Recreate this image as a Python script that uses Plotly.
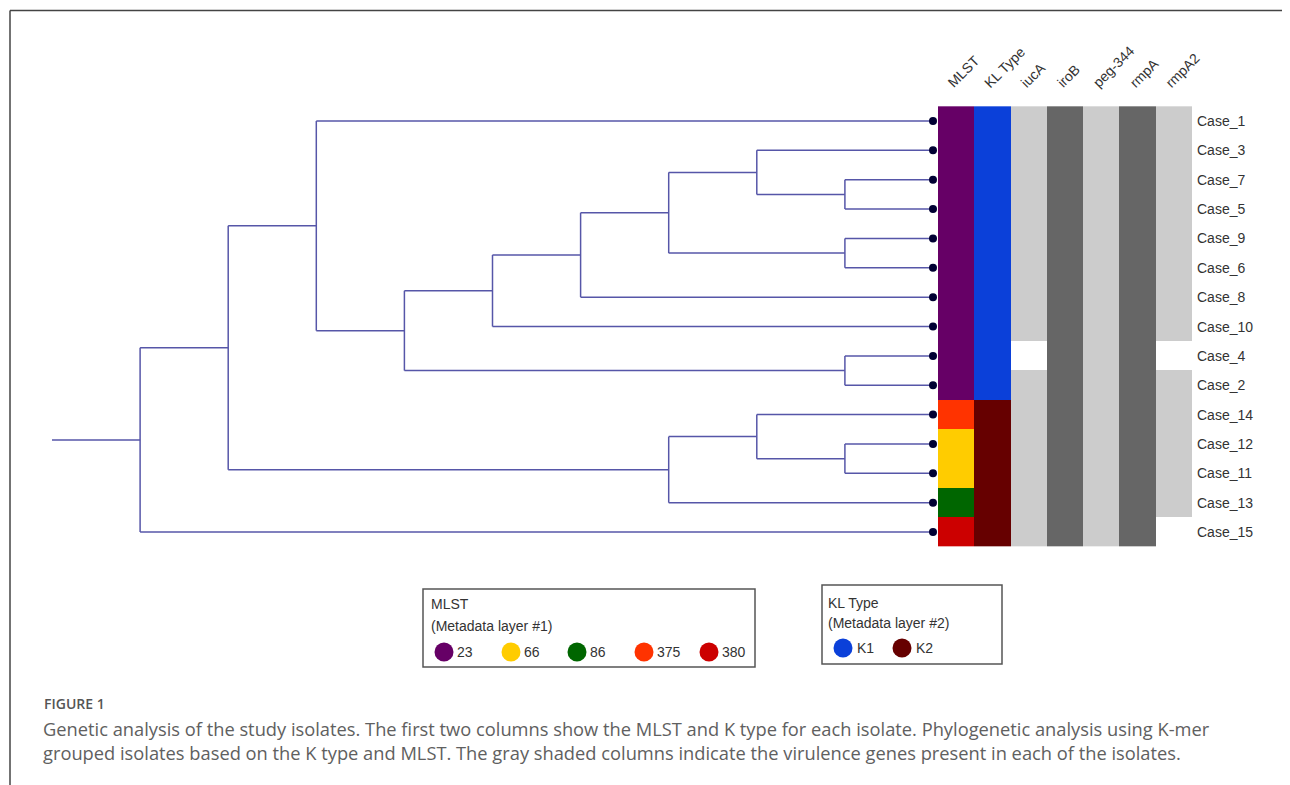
import plotly.graph_objects as go

# ---------------- data ----------------
tree = (
    (
        ("Case_1",
         ((((("Case_3", ("Case_7", "Case_5")), ("Case_9", "Case_6")), "Case_8"), "Case_10"),
          ("Case_4", "Case_2"))),
        (("Case_14", ("Case_12", "Case_11")), "Case_13"),
    ),
    "Case_15",
)
cases = ["Case_1", "Case_3", "Case_7", "Case_5", "Case_9", "Case_6", "Case_8", "Case_10",
         "Case_4", "Case_2", "Case_14", "Case_12", "Case_11", "Case_13", "Case_15"]
mlst = ["23", "23", "23", "23", "23", "23", "23", "23", "23", "23", "375", "66", "66", "86", "380"]
kl_type = ["K1", "K1", "K1", "K1", "K1", "K1", "K1", "K1", "K1", "K1", "K2", "K2", "K2", "K2", "K2"]
gene_names = ["iucA", "iroB", "peg-344", "rmpA", "rmpA2"]
iucA = [1, 1, 1, 1, 1, 1, 1, 1, 0, 1, 1, 1, 1, 1, 1]
iroB = [1, 1, 1, 1, 1, 1, 1, 1, 1, 1, 1, 1, 1, 1, 1]
peg344 = [1, 1, 1, 1, 1, 1, 1, 1, 1, 1, 1, 1, 1, 1, 1]
rmpA = [1, 1, 1, 1, 1, 1, 1, 1, 1, 1, 1, 1, 1, 1, 1]
rmpA2 = [1, 1, 1, 1, 1, 1, 1, 1, 0, 1, 1, 1, 1, 1, 0]
genes = [iucA, iroB, peg344, rmpA, rmpA2]
column_labels = ["MLST", "KL Type"] + gene_names

mlst_levels = ["23", "66", "86", "375", "380"]
mlst_colors = ["#660066", "#ffcc00", "#006600", "#ff3300", "#cc0000"]
kl_levels = ["K1", "K2"]
kl_colors = ["#0b40d9", "#660000"]
gene_colors = ["#cccccc", "#666666"]  # alternating shade for present genes
absent_color = "#ffffff"

caption_head = "FIGURE 1"
caption_lines = [
    "Genetic analysis of the study isolates. The first two columns show the MLST and K type for each isolate. Phylogenetic analysis using K-mer",
    "grouped isolates based on the K type and MLST. The gray shaded columns indicate the virulence genes present in each of the isolates.",
]

# ---------------- geometry ----------------
PAGE_W, PAGE_H = 1290, 785
OFF = 8                      # default body margin of the html page
W, H = PAGE_W - OFF, PAGE_H - OFF
X0, SX = 52.0, 88.1          # page px of depth 0, px per depth unit
Y0, SY = 121.0, 29.36        # page px of row 0, px per row
LINE_COL = "#5656a8"
TXT = "#333333"
FONT = "Liberation Sans, Arial, sans-serif"


def px_x(p):
    return (p - OFF) / W


def px_y(p):
    return 1 - (p - OFF) / H


def height(n):
    return 0 if isinstance(n, str) else 1 + max(height(c) for c in n)


TIP_DEPTH = height(tree) + 1
row = {c: i for i, c in enumerate(cases)}
seg_x, seg_y = [], []


def lay(n):
    if isinstance(n, str):
        return TIP_DEPTH, row[n]
    x = TIP_DEPTH - height(n)
    ys = []
    for c in n:
        cx, cy = lay(c)
        seg_x.extend([x, cx, None])
        seg_y.extend([cy, cy, None])
        ys.append(cy)
    seg_x.extend([x, x, None])
    seg_y.extend([min(ys), max(ys), None])
    return x, (min(ys) + max(ys)) / 2


rx, ry = lay(tree)
seg_x.extend([0, rx, None])
seg_y.extend([ry, ry, None])

fig = go.Figure()

# ---------------- heatmap ----------------
palette = [absent_color] + gene_colors + mlst_colors + kl_colors
ncol = len(palette)
cscale = []
for i, c in enumerate(palette):
    cscale.append([i / ncol, c])
    cscale.append([(i + 1) / ncol, c])

z = []
for r in range(len(cases)):
    rowz = [1 + len(gene_colors) + mlst_levels.index(mlst[r]),
            1 + len(gene_colors) + len(mlst_levels) + kl_levels.index(kl_type[r])]
    for j, g in enumerate(genes):
        rowz.append((1 + (j % 2)) if g[r] else 0)
    z.append(rowz)

HM_LEFT = TIP_DEPTH + 5.0 / SX
CW = 36.3 / SX
xc = [HM_LEFT + CW * (j + 0.5) for j in range(len(column_labels))]

fig.add_trace(go.Heatmap(z=z, x=xc, y=list(range(len(cases))), colorscale=cscale,
                         zmin=-0.5, zmax=ncol - 0.5, showscale=False, hoverinfo="skip",
                         xgap=0, ygap=0))

# ---------------- tree ----------------
fig.add_trace(go.Scatter(x=seg_x, y=seg_y, mode="lines",
                         line=dict(color=LINE_COL, width=1.5), hoverinfo="skip", showlegend=False))
fig.add_trace(go.Scatter(x=[TIP_DEPTH] * len(cases), y=list(range(len(cases))), mode="markers",
                         marker=dict(color="#000033", size=8), hoverinfo="skip", showlegend=False))

annotations = []
HM_RIGHT = HM_LEFT + CW * len(column_labels)
for i, c in enumerate(cases):
    annotations.append(dict(x=HM_RIGHT, y=i, xref="x", yref="y", text=c, showarrow=False,
                            xanchor="left", yanchor="middle", xshift=3,
                            font=dict(family=FONT, size=14, color=TXT)))
for j, lab in enumerate(column_labels):
    annotations.append(dict(x=xc[j], y=-0.5, xref="x", yref="y", text=lab, showarrow=False,
                            textangle=-45, xanchor="left", yanchor="bottom", xshift=-14, yshift=13,
                            font=dict(family=FONT, size=14, color=TXT)))

# ---------------- legends ----------------
shapes = []
LEG_LINE = dict(color="#555555", width=1.5)
shapes.append(dict(type="rect", xref="paper", yref="paper", x0=px_x(423), x1=px_x(755),
                   y0=px_y(589), y1=px_y(667), line=LEG_LINE, fillcolor="rgba(0,0,0,0)"))
shapes.append(dict(type="rect", xref="paper", yref="paper", x0=px_x(822), x1=px_x(1002),
                   y0=px_y(585), y1=px_y(664), line=LEG_LINE, fillcolor="rgba(0,0,0,0)"))

leg_font = dict(family=FONT, size=14, color=TXT)
for txt, x, y in [("MLST", 429, 604), ("(Metadata layer #1)", 429, 626),
                  ("KL Type", 826, 603), ("(Metadata layer #2)", 826, 623)]:
    annotations.append(dict(x=px_x(x), y=px_y(y), xref="paper", yref="paper", text=txt,
                            showarrow=False, xanchor="left", yanchor="middle", font=leg_font))

mlst_cx = [444, 511, 577, 644, 709]
kl_cx = [843, 902]
fig.add_trace(go.Scatter(x=mlst_cx + kl_cx, y=[652] * len(mlst_cx) + [648] * len(kl_cx),
                         xaxis="x2", yaxis="y2", mode="markers",
                         marker=dict(size=19, color=mlst_colors + kl_colors, line=dict(width=0)),
                         hoverinfo="skip", showlegend=False))
for lab, cx in zip(mlst_levels, mlst_cx):
    annotations.append(dict(x=px_x(cx + 11), y=px_y(652), xref="paper", yref="paper", text=lab,
                            showarrow=False, xanchor="left", yanchor="middle", font=leg_font))
for lab, cx in zip(kl_levels, kl_cx):
    annotations.append(dict(x=px_x(cx + 12), y=px_y(648), xref="paper", yref="paper", text=lab,
                            showarrow=False, xanchor="left", yanchor="middle", font=leg_font))

# ---------------- caption & frame ----------------
annotations.append(dict(x=px_x(42), y=px_y(703), xref="paper", yref="paper", text=caption_head,
                        showarrow=False, xanchor="left", yanchor="middle",
                        font=dict(family="Open Sans, sans-serif", size=14, color="#555555", weight=600)))
annotations.append(dict(x=px_x(42), y=px_y(740), xref="paper", yref="paper",
                        text="<br>".join(caption_lines), showarrow=False, align="left",
                        xanchor="left", yanchor="middle", borderpad=0,
                        font=dict(family="Open Sans, sans-serif", size=18.3, color="#606060")))

frame = dict(color="#444444", width=1.5)
shapes.append(dict(type="line", xref="paper", yref="paper", x0=px_x(10), x1=1,
                   y0=px_y(10.5), y1=px_y(10.5), line=frame))
shapes.append(dict(type="line", xref="paper", yref="paper", x0=px_x(10), x1=px_x(10),
                   y0=px_y(10.5), y1=0, line=frame))

fig.update_layout(
    width=W, height=H, margin=dict(l=0, r=0, t=0, b=0, pad=0),
    paper_bgcolor="white", plot_bgcolor="white", showlegend=False,
    xaxis=dict(range=[(OFF - X0) / SX, (PAGE_W - X0) / SX], visible=False, fixedrange=True),
    yaxis=dict(range=[(PAGE_H - Y0) / SY, (OFF - Y0) / SY], visible=False, fixedrange=True),
    xaxis2=dict(range=[OFF, PAGE_W], overlaying="x", visible=False, fixedrange=True),
    yaxis2=dict(range=[PAGE_H, OFF], overlaying="y", visible=False, fixedrange=True),
    annotations=annotations, shapes=shapes,
)

fig.write_html("out.html", config={"displayModeBar": False})
